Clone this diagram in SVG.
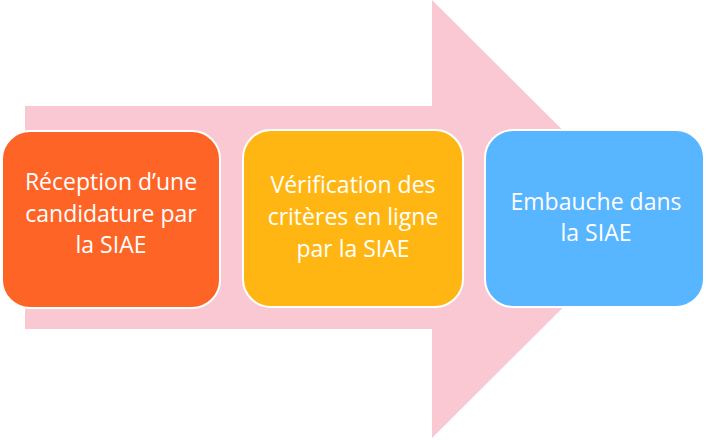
<svg xmlns="http://www.w3.org/2000/svg" width="706" height="440" viewBox="0 0 706 440">
<style>
.box{stroke:#ffffff;stroke-width:2}
.lbl{font-family:"Open Sans","Liberation Sans",sans-serif;font-size:23px;fill:#ffffff;text-anchor:middle}
</style>
<rect width="706" height="440" fill="#ffffff"/>
<g id="connectors">
<polygon points="25,106 432,106 432,0 652,219 432,438 432,329 25,329" fill="#fac8d2"/>
</g>
<g id="node1">
<rect class="box" x="2" y="131" width="218" height="177" rx="28" fill="#ff6427"/>
<text class="lbl" x="111" y="190">Réception d’une</text>
<text class="lbl" x="111" y="222">candidature par</text>
<text class="lbl" x="111" y="253">la SIAE</text>
</g>
<g id="node2">
<rect class="box" x="243" y="130" width="220" height="177" rx="28" fill="#ffb612"/>
<text class="lbl" x="353" y="193">Vérification des</text>
<text class="lbl" x="353" y="225">critères en ligne</text>
<text class="lbl" x="353" y="257">par la SIAE</text>
</g>
<g id="node3">
<rect class="box" x="485" y="130" width="219" height="177" rx="28" fill="#58b5ff"/>
<text class="lbl" x="596" y="210">Embauche dans</text>
<text class="lbl" x="596" y="241">la SIAE</text>
</g>
</svg>
